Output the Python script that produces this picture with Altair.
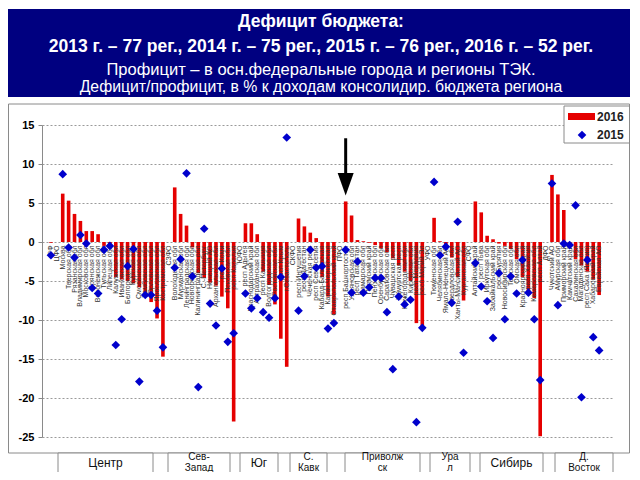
import altair as alt
import pandas as pd

# ---------------- data ----------------
regions = [
    "РФ", "ЦФО", "Москва", "Тверская обл", "Рязанская обл", "Владимирская обл", "Московская обл",
    "Брянская обл", "Воронежская обл", "Тульская обл", "Липецкая обл", "Калужская обл",
    "Ивановская обл", "Белгородская обл", "Курская обл", "Смоленская обл", "Тамбовская обл",
    "Орловская обл", "Ярославская обл", "Костромская обл",
    "СЗФО", "Вологодская обл", "Мурманская обл", "Ленинградская обл", "Новгородская обл",
    "Калининградская обл", "С.-Петербург", "Ненецкий АО", "Архангельская обл", "респ Коми",
    "Псковская обл", "респ Карелия",
    "ЮФО", "респ Адыгея", "Краснодарский край", "Астраханская обл", "респ Калмыкия",
    "Волгоградская обл", "Ростовская обл", "респ Крым", "г.Севастополь",
    "СКФО", "респ Ингушетия", "респ Дагестан", "Чеченская респ", "респ Сев.Осетия",
    "Кабард-Балкарская", "Карач-Черкесская", "Ставропольский край",
    "ПФО", "респ Башкортостан", "Ульяновская обл", "респ Татарстан", "Самарская обл",
    "Пермский край", "Пензенская обл", "Оренбургская обл", "Саратовская обл", "Чувашская респ",
    "Удмуртская респ", "Нижегородская обл", "Кировская обл", "респ Мордовия", "респ Марий Эл",
    "УФО", "Тюменская обл", "Челябинская обл", "Ямало-Ненецкий АО", "Свердловская обл",
    "Ханты-Мансийский АО", "Курганская обл",
    "СФО", "Алтайский край", "респ Тыва", "Иркутская обл", "Забайкальский край", "респ Бурятия",
    "Новосибирская обл", "Томская обл", "Омская обл", "Красноярский край", "респ Хакасия",
    "Кемеровская обл", "респ Алтай",
    "ДФО", "Чукотский АО", "Амурская обл", "Приморский край", "Камчатский край",
    "Сахалинская обл", "Магаданская обл", "респ Саха (Якутия)", "Хабаровский край", "Еврейская АО",
]

deficit_2016 = [
    -0.1, None, 6.2, 5.3, 3.6, 2.7, 1.4, 1.4, 1.0, -0.5, -0.6, -4.5, -4.8, -5.0, -5.3, -5.8, -6.5, -7.7, -9.8, -14.7,
    None, 7.0, 3.6, 2.1, -0.7, -4.0, -4.6, -5.2, -5.6, -7.0, -8.5, -23.0,
    None, 2.4, 2.4, 1.0, -3.8, -5.5, -8.0, -12.4, -16.0,
    None, 3.0, 2.0, 1.2, 0.5, -4.5, -7.0, -9.3,
    None, 5.2, 3.4, 0.25, 0.1, -0.1, -0.4, -0.8, -1.3, -2.1, -3.0, -3.8, -5.0, -10.4, -10.8,
    None, 3.1, 0.1, -0.3, -2.0, -4.5, -7.5,
    None, 5.2, 3.8, 0.8, 0.35, -0.2, -0.5, -0.9, -2.2, -4.5, -6.8, -7.2, -24.9,
    None, 8.6, 6.1, 4.1, -0.1, -2.2, -3.0, -3.8, -4.8, -6.8,
]

deficit_2015 = [
    -1.7, None, 8.7, -0.7, -2.0, 0.9, -0.2, -5.9, -6.6, -1.0, -0.5, -13.2, -9.9, -3.1, -0.9, -17.9, -6.8, -6.8, -8.8, -13.5,
    None, -3.3, -2.2, 8.8, -4.4, -18.6, 1.7, -7.9, -10.7, -3.4, -12.8, -11.7,
    None, -6.6, -8.5, -7.2, -9.0, -9.7, -7.2, -4.5, 13.4,
    None, -8.8, -4.4, -1.0, -3.3, -3.1, -11.1, -10.4,
    None, -1.0, -6.5, -2.5, -6.5, -5.8, -4.6, -4.6, -9.0, -16.3, -7.0, -8.0, -7.4, -23.1, -11.0,
    None, 7.7, -1.7, -0.6, -7.8, 2.6, -14.2,
    None, -2.7, -5.7, -7.6, -12.3, -4.0, -9.9, -4.4, -6.6, -2.3, -6.5, -9.9, -17.7,
    None, 7.5, -8.1, -0.2, -0.4, 4.7, -19.9, -2.3, -12.2, -13.9,
]

y_ticks = [15, 10, 5, 0, -5, -10, -15, -20, -25]

title_lines = [
    "Дефицит бюджета:",
    "2013 г. – 77 рег., 2014 г.  – 75  рег., 2015 г. – 76 рег., 2016 г. – 52 рег.",
    "Профицит – в осн.федеральные города и регионы ТЭК.",
    "Дефицит/профицит, в % к доходам консолидир. бюджета региона",
]

district_names = [["Центр"], ["Сев-", "Запад"], ["Юг"], ["С.", "Кавк"], ["Приволж", "ск"],
                  ["Ура", "л"], ["Сибирь"], ["Д.", "Восток"]]

arrow_idx = 50  # респ Башкортостан

# ---------------- layout (plot-area pixel coords) ----------------
district_box_px = [(16, 111), (126, 188), (198, 236), (248, 285), (303, 378), (388, 428), (438, 501), (513, 571)]

df = pd.DataFrame({
    "idx": list(range(len(regions))),
    "region": regions,
    "v2016": deficit_2016,
    "v2015": deficit_2015,
})

N = len(regions)
xscale = alt.Scale(domain=[-0.667, N + 0.333], nice=False, zero=False)
yscale = alt.Scale(domain=[-25, 15], nice=False, zero=False)

FONT = "Liberation Sans"
one = pd.DataFrame({"k": [0]})


def rect(x, x2, y, y2, **kw):
    return alt.Chart(one).mark_rect(**kw).encode(
        x=alt.value(x), x2=alt.value(x2), y=alt.value(y), y2=alt.value(y2))


def txt(s, x, y, **kw):
    return alt.Chart(one).mark_text(text=s, font=FONT, **kw).encode(
        x=alt.value(x), y=alt.value(y))


y_axis = alt.Axis(
    values=y_ticks, grid=True, gridDash=[2, 2], gridColor="#9a9a9a", gridWidth=1,
    domainColor="#8a8a8a", tickColor="#8a8a8a", tickSize=4, labelOverlap=False,
    labelFontSize=11, labelFontWeight="bold", labelColor="#000", labelFont=FONT,
    labelPadding=4, title=None, labelExpr="datum.value + ''")

layers = []

# chart frame
layers.append(rect(-33.5, 587.5, -21, 328, fill=None, stroke="#8a8a8a", strokeWidth=1))

# header
layers.append(rect(-34, 590, -116, -28, fill="#000080"))
layers.append(txt(title_lines[0], 279, -103, fontSize=17.5, fontWeight="bold", color="white", align="center", baseline="middle"))
layers.append(txt(title_lines[1], 279, -78, fontSize=17.5, fontWeight="bold", color="white", align="center", baseline="middle"))
layers.append(txt(title_lines[2], 279, -55, fontSize=16.5, color="white", align="center", baseline="middle"))
layers.append(txt(title_lines[3], 279, -38, fontSize=15.8, color="white", align="center", baseline="middle"))

base = alt.Chart(df)

bars = base.mark_bar(orient="vertical", size=3.6, color="#E50000").encode(
    x=alt.X("idx:Q", scale=xscale, axis=None),
    y=alt.Y("v2016:Q", scale=yscale, axis=y_axis),
    y2=alt.datum(0),
)
layers.append(bars)

cat_labels = base.mark_text(angle=270, align="right", baseline="middle", fontSize=7,
                            color="#333", font=FONT).encode(
    x=alt.X("idx:Q", scale=xscale, axis=None),
    y=alt.datum(-0.45, axis=y_axis),
    text="region:N",
)
layers.append(cat_labels)

points = base.mark_point(shape="diamond", filled=True, size=75, color="#0000CC", opacity=1).encode(
    x=alt.X("idx:Q", scale=xscale, axis=None),
    y=alt.Y("v2015:Q", scale=yscale, axis=y_axis),
)
layers.append(points)

# arrow pointing at the highlighted region
arrow_df = pd.DataFrame({"idx": [arrow_idx], "top": [13.3], "bottom": [8.4], "head": [7.4]})
layers.append(alt.Chart(arrow_df).mark_rule(strokeWidth=3, color="black").encode(
    x=alt.X("idx:Q", scale=xscale, axis=None), y=alt.Y("top:Q", scale=yscale, axis=y_axis), y2="bottom:Q"))
layers.append(alt.Chart(arrow_df).mark_point(shape="M-1,-1.4L1,-1.4L0,1.4Z", filled=True, size=256,
                                             color="black", opacity=1).encode(
    x=alt.X("idx:Q", scale=xscale, axis=None), y=alt.Y("head:Q", scale=yscale, axis=y_axis)))

# legend
layers.append(rect(522, 587.5, -19, 18, fill="white", stroke="#8a8a8a", strokeWidth=1))
layers.append(rect(526, 553, -12, -5, fill="#E50000"))
layers.append(txt("2016", 555, -8.5, fontSize=12, fontWeight="bold", color="#222", align="left", baseline="middle"))
layers.append(alt.Chart(one).mark_point(shape="diamond", filled=True, size=75, color="#0000CC", opacity=1).encode(
    x=alt.value(540), y=alt.value(10)))
layers.append(txt("2015", 555, 10, fontSize=12, fontWeight="bold", color="#222", align="left", baseline="middle"))

# federal district boxes at the bottom
for (x0, x1), name in zip(district_box_px, district_names):
    layers.append(rect(x0, x1, 328, 360, fill="white", stroke="#8a8a8a", strokeWidth=1))
    cx = (x0 + x1) / 2
    if len(name) == 1:
        layers.append(txt(name[0], cx, 338, fontSize=12, color="#111", align="center", baseline="middle"))
    else:
        layers.append(txt(name[0], cx, 331.5, fontSize=10, color="#111", align="center", baseline="middle"))
        layers.append(txt(name[1], cx, 343, fontSize=10, color="#111", align="center", baseline="middle"))

chart = alt.layer(*layers).properties(
    width=570, height=312,
    padding={"left": 34, "top": 117, "right": 18, "bottom": 35},
    autosize=alt.AutoSizeParams(type="none"),
).configure(
    font=FONT,
    view=alt.ViewConfig(stroke=None),
    axis=alt.AxisConfig(labelOverlap=False),
)

chart.save("out.html", embed_options={"renderer": "svg", "actions": False})
